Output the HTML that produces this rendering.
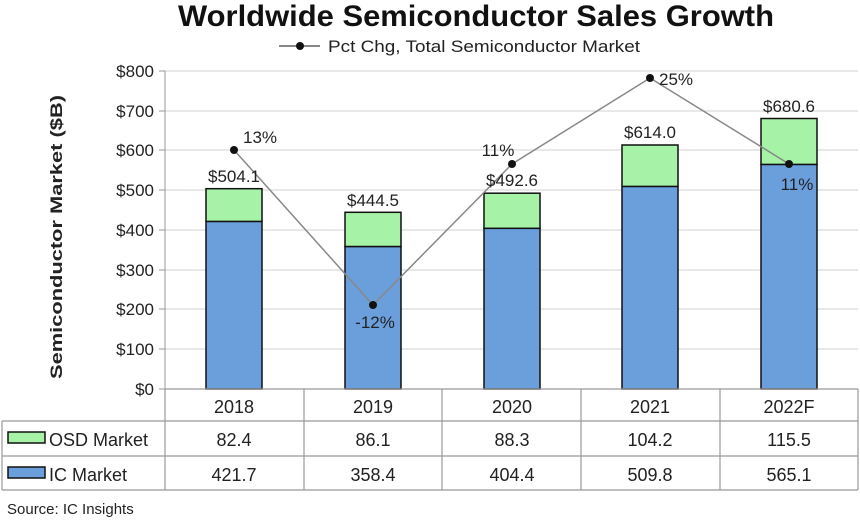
<!DOCTYPE html>
<html><head><style>
body{margin:0;background:#fff;}
svg{display:block;font-family:"Liberation Sans",sans-serif;}
</style></head><body>
<svg width="860" height="524" viewBox="0 0 860 524">
<text x="476" y="26" text-anchor="middle" font-size="30" font-weight="bold" fill="#111" textLength="596" lengthAdjust="spacingAndGlyphs">Worldwide Semiconductor Sales Growth</text>
<line x1="279" y1="46" x2="320" y2="46" stroke="#888" stroke-width="2"/>
<circle cx="300" cy="46" r="4" fill="#111"/>
<text x="328" y="52" font-size="17" fill="#222" textLength="312" lengthAdjust="spacingAndGlyphs">Pct Chg, Total Semiconductor Market</text>
<g stroke="#d9d9d9" stroke-width="1.2">
<line x1="165" y1="71" x2="858" y2="71"/><line x1="165" y1="111" x2="858" y2="111"/>
<line x1="165" y1="150" x2="858" y2="150"/><line x1="165" y1="190" x2="858" y2="190"/>
<line x1="165" y1="230" x2="858" y2="230"/><line x1="165" y1="270" x2="858" y2="270"/>
<line x1="165" y1="309" x2="858" y2="309"/><line x1="165" y1="349" x2="858" y2="349"/>
</g>
<line x1="165" y1="71" x2="165" y2="389" stroke="#999"/>
<g stroke="#999"><line x1="159" y1="71" x2="165" y2="71"/><line x1="159" y1="111" x2="165" y2="111"/><line x1="159" y1="150" x2="165" y2="150"/><line x1="159" y1="190" x2="165" y2="190"/><line x1="159" y1="230" x2="165" y2="230"/><line x1="159" y1="270" x2="165" y2="270"/><line x1="159" y1="309" x2="165" y2="309"/><line x1="159" y1="349" x2="165" y2="349"/><line x1="159" y1="389" x2="165" y2="389"/></g>
<g font-size="17" fill="#222" text-anchor="end">
<text x="154" y="77">$800</text><text x="154" y="117">$700</text><text x="154" y="156">$600</text><text x="154" y="196">$500</text><text x="154" y="236">$400</text><text x="154" y="276">$300</text><text x="154" y="315">$200</text><text x="154" y="355">$100</text><text x="154" y="395">$0</text>
</g>
<text transform="translate(62,237) rotate(-90)" text-anchor="middle" font-size="17" font-weight="bold" fill="#222" textLength="284" lengthAdjust="spacingAndGlyphs">Semiconductor Market ($B)</text>
<g stroke="#111" stroke-width="1.5">
<rect x="206" y="221.4" width="56" height="167.6" fill="#6a9fdc"/><rect x="206" y="188.7" width="56" height="32.7" fill="#a6f2a6"/>
<rect x="345" y="246.5" width="56" height="142.5" fill="#6a9fdc"/><rect x="345" y="212.3" width="56" height="34.2" fill="#a6f2a6"/>
<rect x="484" y="228.3" width="56" height="160.7" fill="#6a9fdc"/><rect x="484" y="193.2" width="56" height="35.1" fill="#a6f2a6"/>
<rect x="622" y="186.4" width="56" height="202.6" fill="#6a9fdc"/><rect x="622" y="145" width="56" height="41.4" fill="#a6f2a6"/>
<rect x="761" y="164.4" width="56" height="224.6" fill="#6a9fdc"/><rect x="761" y="118.5" width="56" height="45.9" fill="#a6f2a6"/>
</g>
<polyline points="234,150 373,305 512,164 650,78 789,164" fill="none" stroke="#888" stroke-width="1.5"/>
<g fill="#111"><circle cx="234" cy="150" r="4"/><circle cx="373" cy="305" r="4"/><circle cx="512" cy="164" r="4"/><circle cx="650" cy="78" r="4"/><circle cx="789" cy="164" r="4"/></g>
<g font-size="17" fill="#222" text-anchor="middle">
<text x="234" y="182">$504.1</text><text x="373" y="206">$444.5</text><text x="512" y="186">$492.6</text><text x="650" y="138">$614.0</text><text x="789" y="112">$680.6</text>
<text x="260" y="143">13%</text><text x="375" y="328">-12%</text><text x="498" y="156">11%</text><text x="676" y="85">25%</text><text x="797" y="190">11%</text>
</g>
<g stroke="#999" stroke-width="1.2" fill="none">
<line x1="165" y1="389" x2="858" y2="389"/>
<line x1="2" y1="421" x2="858" y2="421"/><line x1="2" y1="456" x2="858" y2="456"/><line x1="2" y1="490" x2="858" y2="490"/>
<line x1="2" y1="421" x2="2" y2="490"/><line x1="858" y1="389" x2="858" y2="490"/>
<line x1="165" y1="389" x2="165" y2="490"/><line x1="304" y1="389" x2="304" y2="490"/><line x1="442" y1="389" x2="442" y2="490"/><line x1="581" y1="389" x2="581" y2="490"/><line x1="720" y1="389" x2="720" y2="490"/>
</g>
<g font-size="18" fill="#222" text-anchor="middle">
<text x="234" y="413">2018</text><text x="373" y="413">2019</text><text x="512" y="413">2020</text><text x="650" y="413">2021</text><text x="789" y="413">2022F</text>
<text x="234" y="446">82.4</text><text x="373" y="446">86.1</text><text x="512" y="446">88.3</text><text x="650" y="446">104.2</text><text x="789" y="446">115.5</text>
<text x="234" y="481">421.7</text><text x="373" y="481">358.4</text><text x="512" y="481">404.4</text><text x="650" y="481">509.8</text><text x="789" y="481">565.1</text>
</g>
<rect x="8" y="432" width="37" height="11" fill="#a6f2a6" stroke="#111" stroke-width="1.5"/>
<rect x="8" y="467" width="37" height="11" fill="#6a9fdc" stroke="#111" stroke-width="1.5"/>
<text x="49" y="446" font-size="18" fill="#222">OSD Market</text>
<text x="49" y="481" font-size="18" fill="#222">IC Market</text>
<text x="7" y="514" font-size="15" fill="#222">Source: IC Insights</text>
</svg>
</body></html>
